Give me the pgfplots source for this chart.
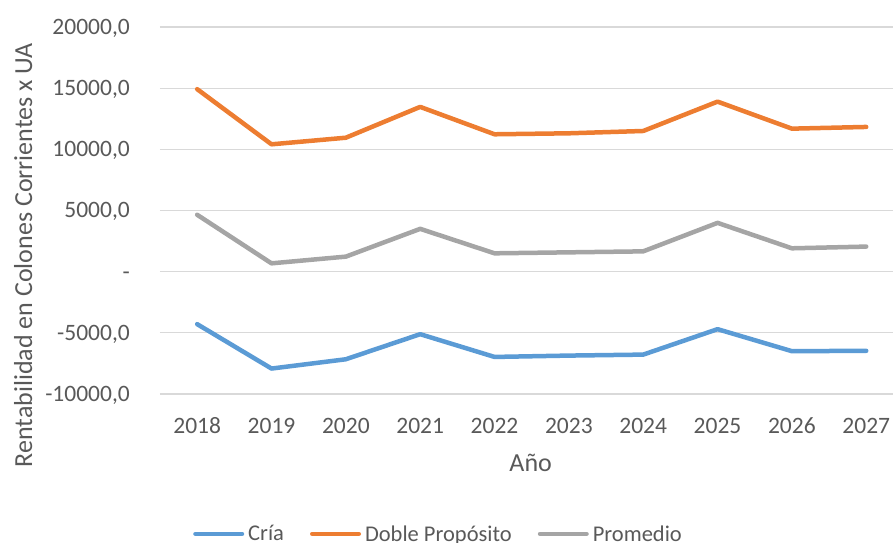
\documentclass[border=0pt]{standalone}
\usepackage{pgfplots}
\pgfplotsset{compat=1.18}
\usepackage{fontspec}
\setmainfont{Carlito}
\definecolor{cria}{HTML}{5B9BD5}
\definecolor{doble}{HTML}{ED7D31}
\definecolor{prom}{HTML}{A5A5A5}
\definecolor{txt}{HTML}{595959}
\definecolor{grd}{HTML}{D9D9D9}
\begin{document}
\begin{tikzpicture}
\begin{axis}[
  scale only axis,
  width=733bp, height=367bp,
  xmin=2017.5, xmax=2027.36,
  ymin=-10000, ymax=20000,
  scaled y ticks=false,
  scaled x ticks=false,
  xtick={2018,2019,2020,2021,2022,2023,2024,2025,2026,2027},
  xticklabels={2018,2019,2020,2021,2022,2023,2024,2025,2026,2027},
  ytick={-10000,-5000,0,5000,10000,15000,20000},
  yticklabels={{-10000,0},{-5000,0},{-\hspace{10bp}},{5000,0},{10000,0},{15000,0},{20000,0}},
  /pgf/number format/assume math mode=true,
  axis line style={draw=none},
  major tick length=0pt,
  ymajorgrids,
  grid style={grd, line width=1.1bp},
  ticklabel style={font=\fontsize{23.5bp}{28bp}\selectfont, text=txt, inner sep=0pt},
  yticklabel style={anchor=base east, xshift=-30bp, yshift=-7.4bp},
  xticklabel style={anchor=base, yshift=-39bp},
  xlabel={Año},
  ylabel={Rentabilidad en Colones Corrientes x UA},
  label style={font=\fontsize{26bp}{30bp}\selectfont, text=txt, inner sep=0pt},
  xlabel style={at={(axis description cs:0.5057,-0.2125)}, anchor=base},
  ylabel style={at={(axis description cs:-0.1746,0.3787)}, anchor=base, rotate=0},
  legend columns=3,
  legend style={draw=none, fill=none, at={(axis description cs:0.0410,-0.3520)}, anchor=north west,
    font=\fontsize{22.5bp}{27bp}\selectfont, text=txt,
    nodes={inner sep=0pt},
    /tikz/every odd column/.style={column sep=4bp},
    /tikz/every even column/.style={column sep=26bp}},
  legend cell align=left,
  legend image code/.code={\draw[#1, line width=4.5bp, line cap=round] (2.25bp,0bp) -- (48.75bp,0bp);},
  every axis plot/.append style={line width=4.5bp, line join=round, line cap=round},
]
\addplot[cria] coordinates {(2018,-4290) (2019,-7920) (2020,-7160) (2021,-5110) (2022,-6970) (2023,-6860) (2024,-6780) (2025,-4700) (2026,-6500) (2027,-6470)};
\addlegendentry{Cría}
\addplot[doble] coordinates {(2018,14920) (2019,10410) (2020,10950) (2021,13470) (2022,11230) (2023,11310) (2024,11500) (2025,13900) (2026,11690) (2027,11830)};
\addlegendentry{Doble Propósito}
\addplot[prom] coordinates {(2018,4650) (2019,680) (2020,1230) (2021,3500) (2022,1500) (2023,1580) (2024,1660) (2025,3990) (2026,1910) (2027,2050)};
\addlegendentry{Promedio}
\end{axis}
\pgfresetboundingbox
\path[use as bounding box] (-160bp,-149bp) rectangle (733bp,394bp);
\end{tikzpicture}
\end{document}
